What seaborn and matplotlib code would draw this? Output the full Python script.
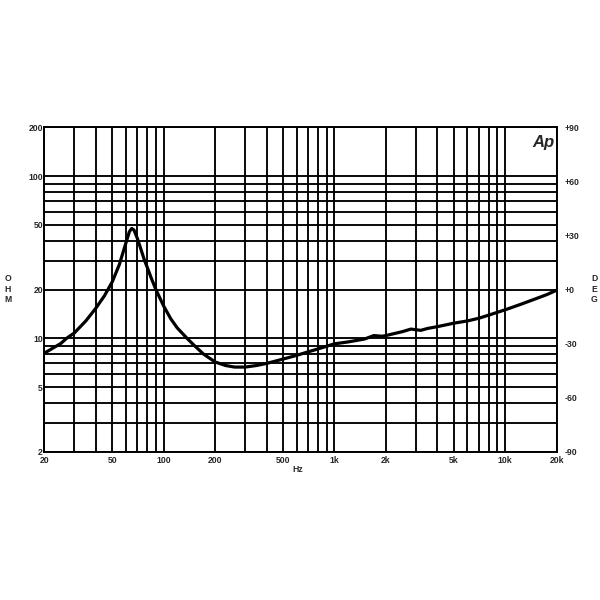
import matplotlib
matplotlib.use("Agg")
import matplotlib.pyplot as plt
import seaborn as sns
import pandas as pd
from matplotlib.ticker import FixedLocator, NullFormatter, LogLocator

# Data (impedance magnitude vs frequency)
freq_hz = [20, 25, 27, 30, 35, 40, 45, 50, 55, 60, 63, 65, 67, 70, 72, 77, 80,
           85, 90, 100, 110, 120, 137, 150, 171, 200, 230, 260, 300, 350, 400,
           500, 600, 700, 800, 1000, 1200, 1500, 1700, 1900, 2000, 2500, 2800,
           3200, 3500, 4000, 5000, 6000, 7000, 8000, 10000, 12500, 15000,
           17500, 20000]
impedance_ohm = [8.1, 9.3, 10.0, 10.8, 12.8, 15.3, 18.3, 22.3, 28.5, 38.5, 45.5,
                 47.6, 46.5, 41.5, 38.0, 30.5, 27.5, 23.2, 20.0, 15.8, 13.2,
                 11.6, 10.0, 9.1, 8.0, 7.15, 6.8, 6.65, 6.65, 6.8, 7.0, 7.45,
                 7.85, 8.25, 8.6, 9.25, 9.5, 9.9, 10.4, 10.3, 10.4, 11.0, 11.4,
                 11.2, 11.5, 11.8, 12.4, 12.8, 13.3, 13.9, 15.0, 16.3, 17.5,
                 18.6, 19.8]

x_ticks = [20, 50, 100, 200, 500, 1000, 2000, 5000, 10000, 20000]
x_labels = ["20", "50", "100", "200", "500", "1k", "2k", "5k", "10k", "20k"]
y_ticks = [2, 5, 10, 20, 50, 100, 200]
y_labels = ["2", "5", "10", "20", "50", "100", "200"]
phase_ticks = [-90, -60, -30, 0, 30, 60, 90]
phase_labels = ["-90", "-60", "-30", "+0", "+30", "+60", "+90"]

df = pd.DataFrame({"Hz": freq_hz, "OHM": impedance_ohm})

sns.set_style("white")
plt.rcParams["font.family"] = ["Liberation Sans", "DejaVu Sans"]

fig = plt.figure(figsize=(6, 6), dpi=100)
ax = fig.add_axes([44.3 / 600, 1 - 451.7 / 600, (556.7 - 44.3) / 600, (451.7 - 127.3) / 600])

ax.set_xscale("log")
ax.set_yscale("log")
ax.set_xlim(20, 20000)
ax.set_ylim(2, 200)

# grid: all decade and sub-decade lines
ax.xaxis.set_major_locator(FixedLocator(x_ticks))
ax.xaxis.set_minor_locator(LogLocator(base=10, subs=range(1, 10), numticks=20))
ax.yaxis.set_major_locator(FixedLocator(y_ticks))
ax.yaxis.set_minor_locator(LogLocator(base=10, subs=range(1, 10), numticks=20))
ax.xaxis.set_minor_formatter(NullFormatter())
ax.yaxis.set_minor_formatter(NullFormatter())
ax.grid(True, which="both", color="black", linewidth=1.35)
ax.set_axisbelow(True)

sns.lineplot(data=df, x="Hz", y="OHM", ax=ax, color="black", linewidth=2.3,
             zorder=5, solid_joinstyle="round", solid_capstyle="round")

ax.set_xticklabels(x_labels)
ax.set_yticklabels(y_labels)
ax.tick_params(axis="both", which="both", length=0, labelsize=6.2)
ax.tick_params(axis="x", pad=3)
ax.tick_params(axis="y", pad=1)
for lab in ax.get_xticklabels() + ax.get_yticklabels():
    lab.set_fontweight("bold")
ax.set_xlabel("")
ax.set_ylabel("")
for sp in ax.spines.values():
    sp.set_color("black")
    sp.set_linewidth(1.4)

# right phase axis (labels only)
ax2 = ax.twinx()
ax2.set_ylim(-90, 90)
ax2.set_yticks(phase_ticks)
ax2.set_yticklabels(phase_labels)
ax2.tick_params(axis="y", length=0, labelsize=6.2, pad=6)
for lab in ax2.get_yticklabels():
    lab.set_fontweight("bold")
ax2.grid(False)
for sp in ax2.spines.values():
    sp.set_visible(False)

fig.text(298 / 600, 1 - 470 / 600, "Hz", fontsize=6.2, fontweight="bold",
         ha="center", va="center")
fig.text(8 / 600, 1 - 289 / 600, "O\nH\nM", fontsize=6.2, fontweight="bold",
         ha="center", va="center", linespacing=1.25)
fig.text(594 / 600, 1 - 289 / 600, "D\nE\nG", fontsize=6.2, fontweight="bold",
         ha="center", va="center", linespacing=1.25)
ax.text(0.995, 0.975, "Ap", transform=ax.transAxes, fontsize=12,
        fontweight="bold", fontstyle="italic", ha="right", va="top", zorder=6)

fig.savefig("out.png", dpi=100, facecolor="white")
